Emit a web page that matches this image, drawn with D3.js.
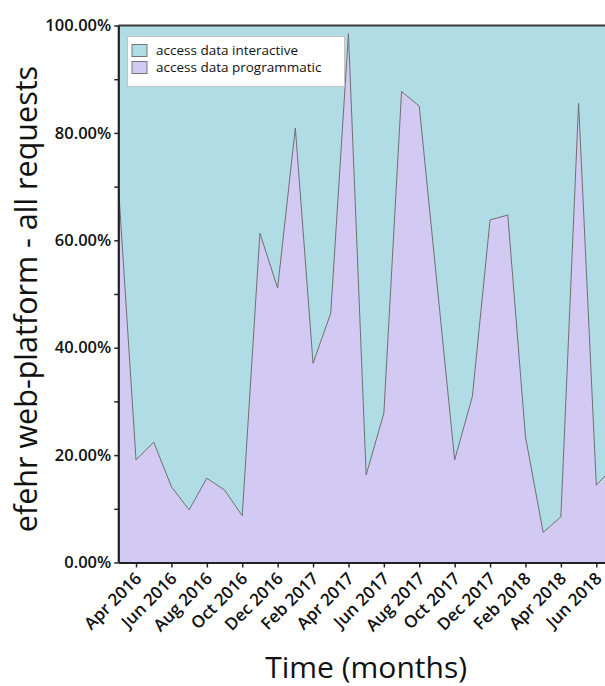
<!DOCTYPE html>
<html>
<head>
<meta charset="utf-8">
<script src="https://cdn.jsdelivr.net/npm/d3@7"></script>
<style>
  html, body { margin: 0; padding: 0; background: #fff; }
  svg { display: block; }
  text { font-family: "Open Sans", "Noto Sans", sans-serif; fill: #111; }
</style>
</head>
<body>
<svg id="chart" width="605" height="686"></svg>
<script>
// Monthly share of requests to the efehr web-platform (percent)
const months = [
  "Mar 2016", "Apr 2016", "May 2016", "Jun 2016", "Jul 2016", "Aug 2016",
  "Sep 2016", "Oct 2016", "Nov 2016", "Dec 2016", "Jan 2017", "Feb 2017",
  "Mar 2017", "Apr 2017", "May 2017", "Jun 2017", "Jul 2017", "Aug 2017",
  "Sep 2017", "Oct 2017", "Nov 2017", "Dec 2017", "Jan 2018", "Feb 2018",
  "Mar 2018", "Apr 2018", "May 2018", "Jun 2018", "Jul 2018"
];
const programmatic = [
  70.5, 19.1, 22.4, 14.1, 9.8, 15.7, 13.5, 8.7, 61.3, 51.1, 80.9, 37.1,
  46.4, 98.5, 16.3, 27.8, 87.7, 85.0, 52.0, 19.1, 30.9, 63.8, 64.7, 23.4,
  5.6, 8.5, 85.5, 14.4, 17.9
];
const interactive = [
  29.5, 80.9, 77.6, 85.9, 90.2, 84.3, 86.5, 91.3, 38.7, 48.9, 19.1, 62.9,
  53.6, 1.5, 83.7, 72.2, 12.3, 15.0, 48.0, 80.9, 69.1, 36.2, 35.3, 76.6,
  94.4, 91.5, 14.5, 85.6, 82.1
];
const xTickLabels = [
  "Apr 2016", "Jun 2016", "Aug 2016", "Oct 2016", "Dec 2016", "Feb 2017",
  "Apr 2017", "Jun 2017", "Aug 2017", "Oct 2017", "Dec 2017", "Feb 2018",
  "Apr 2018", "Jun 2018"
];
const yTickValues = [0, 10, 20, 30, 40, 50, 60, 70, 80, 90, 100];
const seriesNames = ["access data interactive", "access data programmatic"];
const seriesColors = ["#b0dce5", "#d3caf3"];

const svg = d3.select("#chart");
const mLeft = 118.3, mRight = 614, mTop = 25.5, mBottom = 562.5;

const x = d3.scalePoint().domain(months).range([mLeft, mRight]).padding(0);
const y = d3.scaleLinear().domain([0, 100]).range([mBottom, mTop]);

// stack programmatic at the bottom, interactive on top
const rows = months.map((m, i) => ({
  month: m,
  programmatic: programmatic[i],
  interactive: interactive[i]
}));
const layers = d3.stack().keys(["programmatic", "interactive"])(rows);

svg.append("clipPath").attr("id", "plotClip")
  .append("rect").attr("x", mLeft).attr("y", mTop)
  .attr("width", mRight - mLeft).attr("height", mBottom - mTop);

const area = d3.area()
  .x(d => x(d.data.month))
  .y0(d => y(d[0]))
  .y1(d => y(d[1]));

const plot = svg.append("g").attr("clip-path", "url(#plotClip)");
plot.append("path").datum(layers[1]).attr("d", area)
  .attr("fill", seriesColors[0]);
plot.append("path").datum(layers[0]).attr("d", area)
  .attr("fill", seriesColors[1]);
plot.append("path").datum(layers[0])
  .attr("d", d3.line().x(d => x(d.data.month)).y(d => y(d[1])))
  .attr("fill", "none").attr("stroke", "#6e6e6e").attr("stroke-width", 1);

// frame: top border plus left and bottom axes
svg.append("line").attr("x1", mLeft).attr("x2", 605)
  .attr("y1", mTop).attr("y2", mTop)
  .attr("stroke", "#3a3a3a").attr("stroke-width", 2);

const yAxis = d3.axisLeft(y).tickValues(yTickValues).tickSize(4).tickSizeOuter(0)
  .tickFormat(d => d % 20 === 0 ? d.toFixed(2) + "%" : "");
const gy = svg.append("g").attr("transform", `translate(${mLeft},0)`).call(yAxis);
gy.select(".domain").attr("stroke", "#222").attr("stroke-width", 2.2);
gy.selectAll(".tick line").attr("stroke", "#222").attr("stroke-width", 1.5);
gy.selectAll(".tick text").attr("font-size", 16.5).attr("font-weight", 600)
  .attr("x", -7).attr("fill", "#111");

const xAxis = d3.axisBottom(x).tickValues(xTickLabels).tickSize(5).tickSizeOuter(0);
const gx = svg.append("g").attr("transform", `translate(0,${mBottom})`).call(xAxis);
gx.select(".domain").attr("stroke", "#222").attr("stroke-width", 2.2);
gx.selectAll(".tick line").attr("stroke", "#222").attr("stroke-width", 1.5);
gx.selectAll(".tick text")
  .attr("font-size", 17).attr("font-weight", 600).attr("fill", "#111")
  .attr("text-anchor", "end")
  .attr("transform", "translate(-3,8) rotate(-45)")
  .attr("x", 0).attr("y", 0).attr("dy", "0.75em");

// axis titles
svg.append("text")
  .attr("transform", `translate(37,299) rotate(-90)`)
  .attr("text-anchor", "middle")
  .attr("font-size", 30.5)
  .text("efehr web-platform - all requests");

svg.append("text")
  .attr("x", (mLeft + mRight) / 2).attr("y", 678)
  .attr("text-anchor", "middle")
  .attr("font-size", 30)
  .text("Time (months)");

// legend
const lg = svg.append("g");
lg.append("rect").attr("x", 127.5).attr("y", 36.5).attr("width", 217).attr("height", 50)
  .attr("fill", "#fff").attr("stroke", "#c4c4c4");
seriesNames.forEach((name, i) => {
  lg.append("rect").attr("x", 132).attr("y", 44.5 + i * 17).attr("width", 15).attr("height", 12)
    .attr("fill", seriesColors[i]).attr("stroke", "#777");
  lg.append("text").attr("x", 156).attr("y", 55 + i * 17)
    .attr("font-size", 13.5).attr("fill", "#222").text(name);
});
</script>
</body>
</html>
